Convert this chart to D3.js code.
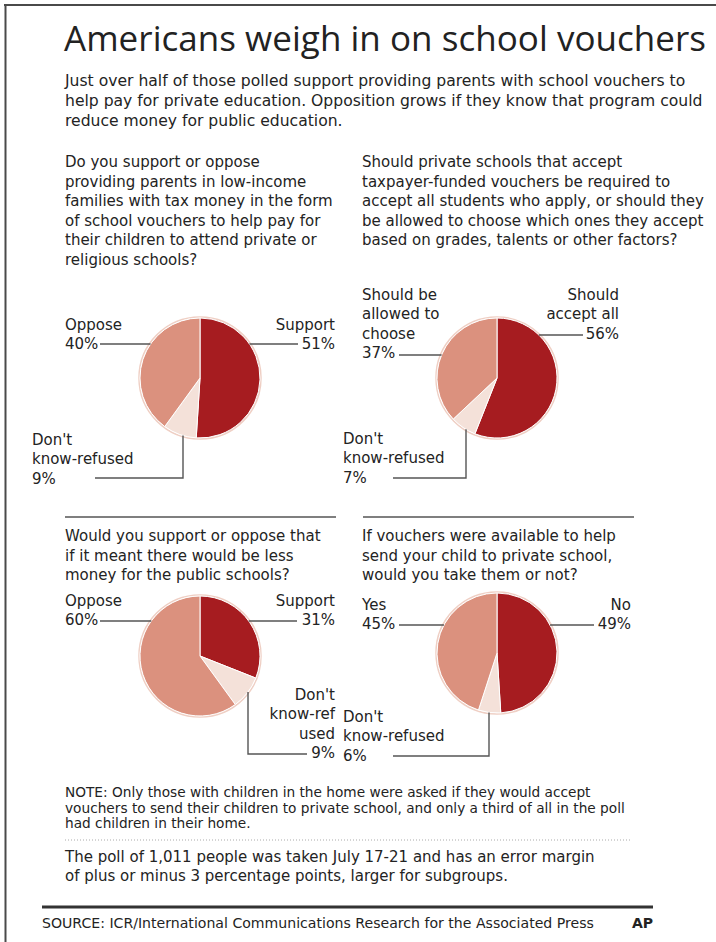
<!DOCTYPE html>
<html>
    <head>
        <title>School vouchers poll</title>
        <script src="https://d3js.org/d3.v7.min.js"></script>
        <style>
            body { margin: 0; background: #fff; }
            .body-text { font-family: "DejaVu Sans", sans-serif; fill: #232323; }
            .title-text { font-family: "Open Sans", sans-serif; fill: #222; }
        </style>
    </head>

    <body>
        <svg id="chart" width="716" height="942"></svg>

        <script>
        // ---- text + data ----
        var titleText = "Americans weigh in on school vouchers";
        var introLines = [
            "Just over half of those polled support providing parents with school vouchers to",
            "help pay for private education. Opposition grows if they know that program could",
            "reduce money for public education."
        ];

        var q1Lines = [
            "Do you support or oppose",
            "providing parents in low-income",
            "families with tax money in the form",
            "of school vouchers to help pay for",
            "their children to attend private or",
            "religious schools?"
        ];
        var q1Labels = [["Support"], ["Don't", "know-refused"], ["Oppose"]];
        var q1Values = [51, 9, 40];

        var q2Lines = [
            "Should private schools that accept",
            "taxpayer-funded vouchers be required to",
            "accept all students who apply, or should they",
            "be allowed to choose which ones they accept",
            "based on grades, talents or other factors?"
        ];
        var q2Labels = [["Should", "accept all"], ["Don't", "know-refused"], ["Should be", "allowed to", "choose"]];
        var q2Values = [56, 7, 37];

        var q3Lines = [
            "Would you support or oppose that",
            "if it meant there would be less",
            "money for the public schools?"
        ];
        var q3Labels = [["Support"], ["Don't", "know-ref", "used"], ["Oppose"]];
        var q3Values = [31, 9, 60];

        var q4Lines = [
            "If vouchers were available to help",
            "send your child to private school,",
            "would you take them or not?"
        ];
        var q4Labels = [["No"], ["Don't", "know-refused"], ["Yes"]];
        var q4Values = [49, 6, 45];

        var noteLines = [
            "NOTE: Only those with children in the home were asked if they would accept",
            "vouchers to send their children to private school, and only a third of all in the poll",
            "had children in their home."
        ];
        var pollLines = [
            "The poll of 1,011 people was taken July 17-21 and has an error margin",
            "of plus or minus 3 percentage points, larger for subgroups."
        ];
        var sourceText = "SOURCE: ICR/International Communications Research for the Associated Press";
        var creditText = "AP";

        // ---- layout ----
        var radius = 60;
        var sliceColor = d3.scaleOrdinal().domain([0, 1, 2]).range(["#a61c20", "#f4e1d9", "#db917e"]);

        var panels = [
            { lines: q1Lines, labels: q1Labels, values: q1Values, qx: 65, qy: 167, cx: 200, cy: 378,
              place: [
                { x: 335, y: 330, anchor: "end", leader: { kind: "h", y: 344, from: 298 } },
                { x: 32, y: 445, anchor: "start", leader: { kind: "elbow", y: 478, from: 95, x: 183 } },
                { x: 65, y: 330, anchor: "start", leader: { kind: "h", y: 344, from: 100 } }
              ] },
            { lines: q2Lines, labels: q2Labels, values: q2Values, qx: 362, qy: 167, cx: 497, cy: 378,
              place: [
                { x: 619, y: 300, anchor: "end", leader: { kind: "h", y: 335, from: 583 } },
                { x: 343, y: 444, anchor: "start", leader: { kind: "elbow", y: 478, from: 393, x: 466 } },
                { x: 362, y: 300, anchor: "start", leader: { kind: "h", y: 355, from: 399 } }
              ] },
            { lines: q3Lines, labels: q3Labels, values: q3Values, qx: 65, qy: 541, cx: 200, cy: 656,
              place: [
                { x: 335, y: 606, anchor: "end", leader: { kind: "h", y: 621, from: 297 } },
                { x: 335, y: 700, anchor: "end", leader: { kind: "elbow", y: 754, from: 307, x: 248 } },
                { x: 65, y: 606, anchor: "start", leader: { kind: "h", y: 621, from: 100 } }
              ] },
            { lines: q4Lines, labels: q4Labels, values: q4Values, qx: 362, qy: 541, cx: 497, cy: 653,
              place: [
                { x: 631, y: 610, anchor: "end", leader: { kind: "h", y: 625, from: 594 } },
                { x: 343, y: 722, anchor: "start", leader: { kind: "elbow", y: 756, from: 393, x: 489 } },
                { x: 362, y: 610, anchor: "start", leader: { kind: "h", y: 625, from: 399 } }
              ] }
        ];

        var svg = d3.select("#chart");

        //frame: top and left rules
        svg.append("line").attr("x1", 4).attr("x2", 716).attr("y1", 5).attr("y2", 5)
            .attr("stroke", "#4a4a4a").attr("stroke-width", 2);
        svg.append("line").attr("x1", 5.5).attr("x2", 5.5).attr("y1", 4).attr("y2", 942)
            .attr("stroke", "#4a4a4a").attr("stroke-width", 2);

        //stacked lines of text
        function textBlock(g, arr, x, y, step, size, anchor) {
            g.append("g").selectAll("text")
                .data(arr)
                .enter().append("text")
                .attr("class", "body-text")
                .attr("x", x)
                .attr("y", function(d, i) { return y + i * step; })
                .attr("text-anchor", anchor || "start")
                .style("font-size", size + "px")
                .text(function(d) { return d; });
        }

        // title + intro
        svg.append("text")
            .attr("class", "title-text")
            .attr("x", 64).attr("y", 51)
            .attr("textLength", 642)
            .style("font-size", "35px")
            .text(titleText);
        textBlock(svg, introLines, 65, 86, 20.2, 15.6);

        //section rules
        [65, 363].forEach(function(x) {
            svg.append("line").attr("x1", x).attr("x2", x + 271).attr("y1", 517).attr("y2", 517)
                .attr("stroke", "#555").attr("stroke-width", 1.5);
        });

        var pie = d3.pie().sort(null).value(function(d) { return d; });
        var arc = d3.arc().innerRadius(0).outerRadius(radius);

        panels.forEach(function(p) {
            var g = svg.append("g");
            textBlock(g, p.lines, p.qx, p.qy, 19.5, 15);

            var pieG = g.append("g").attr("transform", "translate(" + p.cx + "," + p.cy + ")");
            pieG.append("circle").attr("r", radius + 1).attr("fill", "none")
                .attr("stroke", "#efcfc4").attr("stroke-width", 1.5);
            pieG.selectAll("path")
                .data(pie(p.values))
                .enter().append("path")
                .attr("d", arc)
                .attr("fill", function(d, i) { return sliceColor(i); })
                .attr("stroke", "#fff")
                .attr("stroke-width", 1);

            // labels and leader lines
            p.place.forEach(function(pl, i) {
                var rows = p.labels[i].concat([p.values[i] + "%"]);
                var step = rows.length > 2 ? 19.3 : 19;
                textBlock(g, rows, pl.x, pl.y, step, 15, pl.anchor);

                var L = pl.leader, path;
                if (L.kind == "h") {
                    var side = pl.anchor == "end" ? 1 : -1;
                    var dy = L.y - p.cy;
                    var edge = p.cx + side * Math.sqrt(Math.max(0, radius * radius - dy * dy));
                    path = "M" + L.from + "," + L.y + "H" + edge;
                } else {
                    var dx = L.x - p.cx;
                    var edgeY = p.cy + Math.sqrt(Math.max(0, radius * radius - dx * dx));
                    path = "M" + L.from + "," + L.y + "H" + L.x + "V" + edgeY;
                }
                g.append("path").attr("d", path).attr("fill", "none")
                    .attr("stroke", "#555").attr("stroke-width", 1.4);
            });
        });

        // note, poll and source
        textBlock(svg, noteLines, 65, 797, 15.5, 13.7);
        svg.append("line").attr("x1", 65).attr("x2", 631).attr("y1", 840).attr("y2", 840)
            .attr("stroke", "#aaa").attr("stroke-width", 1).attr("stroke-dasharray", "1,2");
        textBlock(svg, pollLines, 65, 862, 19, 15);

        svg.append("line").attr("x1", 42).attr("x2", 653).attr("y1", 907).attr("y2", 907)
            .attr("stroke", "#333").attr("stroke-width", 3);
        textBlock(svg, [sourceText], 42, 928, 0, 14.1);
        svg.append("text").attr("class", "body-text")
            .attr("x", 653).attr("y", 928)
            .attr("text-anchor", "end")
            .style("font-size", "14px").style("font-weight", "bold")
            .text(creditText);
        </script>
    </body>
</html>
